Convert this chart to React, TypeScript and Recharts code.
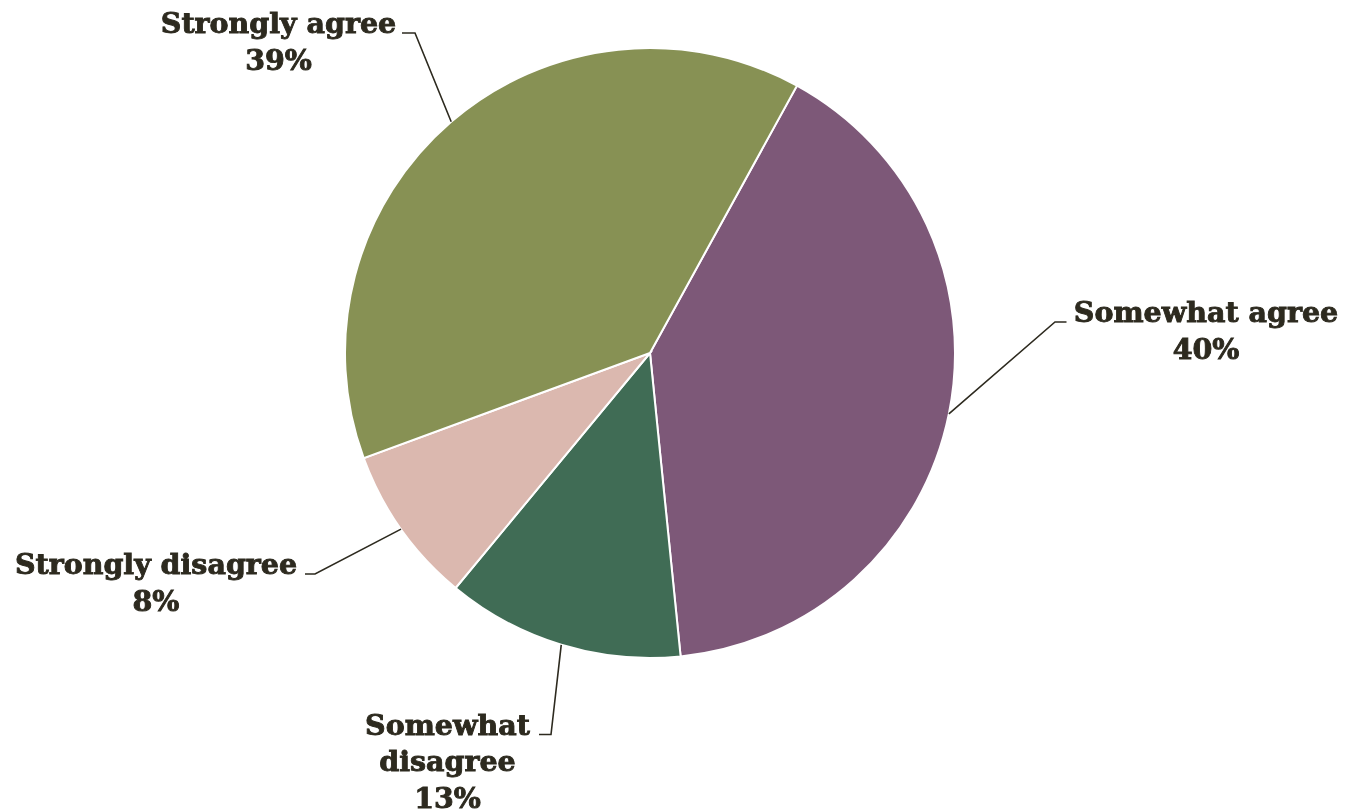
import React from "react";
import { PieChart, Pie, Cell } from "recharts";

const categories = ["Somewhat agree", "Somewhat disagree", "Strongly disagree", "Strongly agree"];
const values = [40.4, 12.6, 8.4, 38.6];
const percentLabels = ["40%", "13%", "8%", "39%"];
const labelLines = [["Somewhat agree"], ["Somewhat", "disagree"], ["Strongly disagree"], ["Strongly agree"]];

const colors = ["#7D5878", "#406C55", "#DBB8AF", "#879154"];

const data = categories.map((name, i) => ({ name, value: values[i] }));

// Label layout (offsets from pie centre): elbow point, end of short horizontal tick, text centre
const labelLayout = [
  { ex: 405, ey: -31, hx: 416.5, tx: 556 },
  { ex: -99, ey: 381.5, hx: -111, tx: -202.5 },
  { ex: -335, ey: 221, hx: -345, tx: -494 },
  { ex: -235, ey: -320, hx: -248, tx: -371.5 },
];

const TEXT_COLOR = "#2D2A1F";
const FONT = "'DejaVu Serif', serif";
const LINE_H = 36.5;
const RAD = Math.PI / 180;

const renderLabel = (props: any) => {
  const { cx, cy, midAngle, outerRadius, index } = props;
  const L = labelLayout[index];
  const sx = cx + outerRadius * Math.cos(-midAngle * RAD);
  const sy = cy + outerRadius * Math.sin(-midAngle * RAD);
  const ex = cx + L.ex;
  const ey = cy + L.ey;
  const hx = cx + L.hx;
  const tx = cx + L.tx;
  const lines = [...labelLines[index], percentLabels[index]];
  return (
    <g key={`lbl-${index}`}>
      <polyline
        points={`${sx},${sy} ${ex},${ey} ${hx},${ey}`}
        fill="none"
        stroke={TEXT_COLOR}
        strokeWidth={1.6}
      />
      <text
        x={tx}
        y={ey}
        textAnchor="middle"
        fill={TEXT_COLOR}
        stroke={TEXT_COLOR}
        strokeWidth={0.9}
        fontFamily={FONT}
        fontWeight="bold"
        fontSize={28.5}
      >
        {lines.map((t, i) => (
          <tspan key={i} x={tx} dy={i === 0 ? 0 : LINE_H}>
            {t}
          </tspan>
        ))}
      </text>
    </g>
  );
};

export default function App() {
  return (
    <div style={{ position: "fixed", top: 0, left: 0, width: 1357, height: 812 }}>
      <PieChart width={1357} height={812} margin={{ top: 0, right: 0, bottom: 0, left: 0 }}>
        <Pie
          data={data}
          dataKey="value"
          nameKey="name"
          cx={650}
          cy={353}
          outerRadius={305}
          startAngle={61.2}
          endAngle={-298.8}
          stroke="#FFFFFF"
          strokeWidth={2}
          label={renderLabel}
          labelLine={false}
          isAnimationActive={false}
        >
          {data.map((d, i) => (
            <Cell key={d.name} fill={colors[i]} />
          ))}
        </Pie>
      </PieChart>
    </div>
  );
}
